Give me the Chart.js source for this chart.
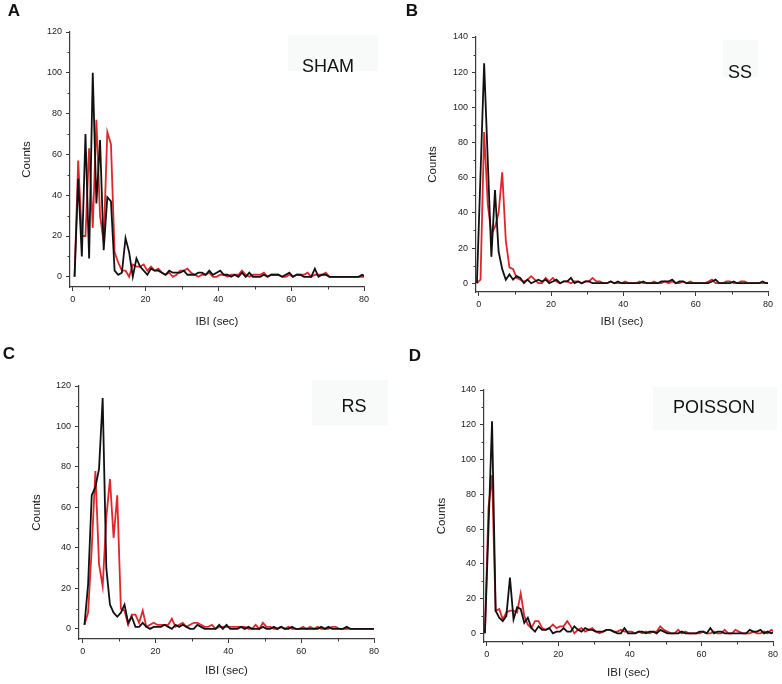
<!DOCTYPE html>
<html>
<head>
<meta charset="utf-8">
<script src="https://cdn.jsdelivr.net/npm/chart.js@4.4.0/dist/chart.umd.min.js"></script>
<style>
body { margin: 0; background: #fff; width: 782px; height: 684px; position: relative; overflow: hidden; font-family: 'Liberation Sans', Arial, sans-serif; }
canvas { position: absolute; }
.box { position: absolute; background: #f8f9f9; }
.lbl { position: absolute; transform: translate(-50%, -50%); white-space: nowrap; color: #111; }
.letter { font-weight: bold; font-size: 17px; }
.cond { font-size: 18px; }
</style>
</head>
<body>
<div class="box" style="left:288px;top:35px;width:90px;height:36px"></div>
<div class="box" style="left:723px;top:40px;width:35px;height:37px"></div>
<div class="box" style="left:312px;top:380px;width:76px;height:45px"></div>
<div class="box" style="left:653px;top:387px;width:124px;height:43px"></div>

<canvas id="cA" width="391" height="330" style="left:0;top:0"></canvas>
<canvas id="cB" width="391" height="330" style="left:391px;top:0"></canvas>
<canvas id="cC" width="391" height="354" style="left:0;top:330px"></canvas>
<canvas id="cD" width="391" height="354" style="left:391px;top:330px"></canvas>

<div class="lbl letter" style="left:14px;top:11px">A</div>
<div class="lbl letter" style="left:412px;top:11px">B</div>
<div class="lbl letter" style="left:9px;top:354px">C</div>
<div class="lbl letter" style="left:415px;top:356px">D</div>
<div class="lbl cond" style="left:328px;top:66px">SHAM</div>
<div class="lbl cond" style="left:740px;top:72px">SS</div>
<div class="lbl cond" style="left:354px;top:406px">RS</div>
<div class="lbl cond" style="left:714px;top:407px">POISSON</div>

<script>
// bin centres (sec)
const ibi = [-0.5, 0.5, 1.5, 2.5, 3.5, 4.5, 5.5, 6.5, 7.5, 8.5,
  9.5, 10.5, 11.5, 12.5, 13.5, 14.5, 15.5, 16.5, 17.5, 18.5,
  19.5, 20.5, 21.5, 22.5, 23.5, 24.5, 25.5, 26.5, 27.5, 28.5,
  29.5, 30.5, 31.5, 32.5, 33.5, 34.5, 35.5, 36.5, 37.5, 38.5,
  39.5, 40.5, 41.5, 42.5, 43.5, 44.5, 45.5, 46.5, 47.5, 48.5,
  49.5, 50.5, 51.5, 52.5, 53.5, 54.5, 55.5, 56.5, 57.5, 58.5,
  59.5, 60.5, 61.5, 62.5, 63.5, 64.5, 65.5, 66.5, 67.5, 68.5,
  69.5, 70.5, 71.5, 72.5, 73.5, 74.5, 75.5, 76.5, 77.5, 78.5,
  79.5, 80.5];

const shamBlack = [null, 0, 48, 10, 70, 9, 100, 36, 67, 13,
  39, 37, 3, 1, 2, 19, 12, 0, 9, 5,
  3, 1, 4, 3, 3, 2, 1, 3, 2, 2,
  2, 3, 1, 1, 1, 2, 2, 1, 3, 1,
  2, 3, 1, 1, 0, 1, 0, 2, 0, 2,
  0, 0, 0, 1, 0, 1, 1, 1, 0, 1,
  2, 0, 1, 1, 0, 0, 0, 4, 0, 1,
  1, 0, 0, 0, 0, 0, 0, 0, 0, 0,
  1, 0];
const shamRed = [null, 0, 57, 20, 20, 63, 24, 77, 30, 17,
  71, 65, 12, 7, 3, 3, 0, 6, 5, 5,
  6, 3, 5, 3, 4, 2, 1, 2, 0, 1,
  3, 3, 4, 2, 1, 0, 1, 1, 2, 0,
  0, 1, 1, 0, 1, 1, 1, 3, 1, 0,
  1, 1, 1, 2, 0, 1, 1, 1, 0, 0,
  1, 0, 1, 1, 1, 2, 0, 1, 1, 1,
  2, 0, 0, 0, 0, 0, 0, 0, 0, 0,
  0, 0];

const ssBlack = [0, 62, 125, 70, 15, 53, 18, 8, 2, 5,
  2, 4, 3, 0, 2, 0, 1, 2, 1, 2,
  0, 1, 2, 0, 1, 1, 3, 0, 1, 0,
  1, 1, 0, 0, 0, 0, 0, 1, 0, 1,
  0, 0, 0, 0, 0, 0, 1, 0, 0, 0,
  0, 1, 1, 1, 2, 0, 1, 1, 0, 0,
  0, 0, 0, 0, 0, 1, 2, 0, 0, 0,
  0, 1, 0, 0, 0, 0, 0, 0, 0, 1,
  0, 0];
const ssRed = [0, 2, 86, 45, 28, 32, 40, 63, 24, 9,
  8, 3, 2, 1, 2, 4, 2, 0, 0, 3,
  1, 3, 1, 0, 1, 1, 0, 1, 1, 0,
  1, 1, 3, 1, 1, 0, 0, 1, 0, 0,
  0, 1, 0, 0, 0, 1, 0, 0, 0, 1,
  0, 0, 1, 0, 1, 0, 0, 1, 0, 1,
  0, 0, 0, 0, 1, 2, 0, 0, 0, 1,
  1, 0, 0, 1, 1, 0, 0, 0, 0, 0,
  0, 0];

const rsBlack = [null, 2, 22, 66, 70, 79, 114, 30, 12, 8,
  6, 8, 12, 3, 6, 1, 1, 3, 1, 0,
  1, 1, 1, 2, 1, 0, 2, 1, 2, 1,
  0, 0, 2, 1, 0, 0, 0, 0, 2, 0,
  2, 0, 0, 0, 1, 0, 1, 0, 0, 0,
  1, 0, 0, 1, 0, 1, 0, 0, 1, 0,
  0, 0, 0, 0, 0, 0, 1, 0, 1, 0,
  0, 0, 0, 1, 0, 0, 0, 0, 0, 0,
  0, 0];
const rsRed = [null, 2, 8, 40, 78, 32, 21, 55, 74, 45,
  66, 10, 9, 2, 7, 7, 3, 9, 1, 2,
  3, 2, 2, 2, 2, 5, 1, 2, 3, 1,
  2, 3, 3, 2, 1, 1, 2, 0, 1, 1,
  1, 1, 1, 1, 1, 1, 0, 0, 2, 0,
  3, 1, 1, 0, 0, 1, 0, 1, 0, 0,
  0, 1, 0, 1, 0, 1, 0, 0, 0, 1,
  1, 0, 0, 0, 0, 0, 0, 0, 0, 0,
  0, 0];

const poissonBlack = [0, 60, 122, 13, 9, 7, 10, 32, 8, 15,
  14, 6, 9, 3, 1, 4, 2, 2, 3, 0,
  1, 1, 3, 1, 1, 4, 2, 1, 3, 2,
  2, 1, 1, 1, 2, 2, 1, 0, 0, 3,
  0, 0, 0, 1, 1, 0, 1, 1, 0, 2,
  1, 0, 0, 0, 0, 1, 0, 0, 0, 0,
  1, 1, 0, 3, 0, 1, 1, 0, 0, 0,
  0, 0, 0, 0, 2, 1, 1, 2, 0, 1,
  0, 1];
const poissonRed = [0, 72, 91, 13, 14, 8, 12, 13, 13, 12,
  23, 10, 5, 3, 7, 7, 3, 2, 3, 5,
  3, 4, 4, 7, 4, 0, 2, 3, 1, 2,
  3, 1, 0, 1, 2, 2, 1, 1, 2, 1,
  1, 1, 0, 1, 0, 1, 0, 1, 1, 4,
  2, 1, 0, 0, 2, 0, 1, 0, 0, 0,
  0, 1, 0, 0, 1, 0, 0, 2, 0, 0,
  2, 1, 0, 0, 0, 1, 0, 0, 1, 0,
  2, 1];

// axis ticks
const xTicks = [0, 20, 40, 60, 80];
const xMinor = [10, 30, 50, 70];
const yTicks120 = [0, 20, 40, 60, 80, 100, 120];
const yMinor120 = [10, 30, 50, 70, 90, 110];
const yTicks140 = [0, 20, 40, 60, 80, 100, 120, 140];
const yMinor140 = [10, 30, 50, 70, 90, 110, 130];

const axisColor = '#3a3a3a';

const minorTicks = {
  id: 'minorTicks',
  afterDraw(chart, args, opts) {
    const ctx = chart.ctx;
    const x = chart.scales.x, y = chart.scales.y;
    ctx.save();
    ctx.strokeStyle = axisColor;
    ctx.lineWidth = 1;
    ctx.beginPath();
    opts.x.forEach(v => {
      const px = Math.round(x.getPixelForValue(v)) + 0.5;
      ctx.moveTo(px, x.top);
      ctx.lineTo(px, x.top + 2.5);
    });
    opts.y.forEach(v => {
      const py = Math.round(y.getPixelForValue(v)) + 0.5;
      ctx.moveTo(y.right, py);
      ctx.lineTo(y.right - 2.5, py);
    });
    ctx.stroke();
    ctx.restore();
  }
};

Chart.defaults.font.family = "'Liberation Sans', Arial, sans-serif";
Chart.defaults.color = '#222';

function toPoints(values) {
  return ibi.map((x, i) => ({ x: x, y: values[i] }));
}

function makePanel(id, black, red, cfg) {
  new Chart(document.getElementById(id), {
    type: 'line',
    data: {
      datasets: [
        { label: 'black', data: toPoints(black), borderColor: '#111', borderWidth: 1.8, pointRadius: 0, tension: 0 },
        { label: 'red', data: toPoints(red), borderColor: '#e0262a', borderWidth: 1.8, pointRadius: 0, tension: 0 }
      ]
    },
    options: {
      responsive: false,
      animation: false,
      events: [],
      layout: { padding: cfg.pad },
      plugins: {
        legend: { display: false },
        tooltip: { enabled: false },
        minorTicks: { x: xMinor, y: cfg.yMinor }
      },
      scales: {
        x: {
          type: 'linear',
          min: cfg.xMin,
          max: 80,
          afterBuildTicks: s => { s.ticks = xTicks.map(v => ({ value: v })); },
          afterFit: s => { s.height = cfg.xHeight; },
          ticks: { font: { size: 9 }, padding: 3, maxRotation: 0 },
          grid: { drawOnChartArea: false, tickLength: 4, tickColor: axisColor },
          border: { color: axisColor, width: 1.2 },
          title: { display: true, text: 'IBI (sec)', font: { size: 11.5 }, padding: { top: 0, bottom: cfg.xTitlePad } }
        },
        y: {
          min: -5,
          max: cfg.yMax,
          afterBuildTicks: s => { s.ticks = cfg.yTicks.map(v => ({ value: v })); },
          afterFit: s => { s.width = cfg.yWidth; },
          ticks: { font: { size: 9 }, padding: 4 },
          grid: { drawOnChartArea: false, tickLength: 4, tickColor: axisColor },
          border: { color: axisColor, width: 1.2 },
          title: { display: true, text: 'Counts', font: { size: 11.5 }, padding: { top: cfg.yTitlePad, bottom: 0 } }
        }
      }
    },
    plugins: [minorTicks]
  });
}

makePanel('cA', shamBlack, shamRed, {
  xMin: -0.75, yMax: 120, yTicks: yTicks120, yMinor: yMinor120,
  pad: { left: 0, top: 32, right: 27, bottom: 0 }, yWidth: 70, xHeight: 43, yTitlePad: 20, xTitlePad: 1
});
makePanel('cB', ssBlack, ssRed, {
  xMin: -0.75, yMax: 140, yTicks: yTicks140, yMinor: yMinor140,
  pad: { left: 0, top: 37, right: 14, bottom: 0 }, yWidth: 85, xHeight: 38, yTitlePad: 35, xTitlePad: 1
});
makePanel('cC', rsBlack, rsRed, {
  xMin: -1, yMax: 120, yTicks: yTicks120, yMinor: yMinor120,
  pad: { left: 0, top: 56, right: 17, bottom: 0 }, yWidth: 79, xHeight: 45, yTitlePad: 30, xTitlePad: 6
});
makePanel('cD', poissonBlack, poissonRed, {
  xMin: -0.75, yMax: 140, yTicks: yTicks140, yMinor: yMinor140,
  pad: { left: 0, top: 60, right: 9, bottom: 0 }, yWidth: 93, xHeight: 42, yTitlePad: 44, xTitlePad: 4
});
</script>
</body>
</html>
